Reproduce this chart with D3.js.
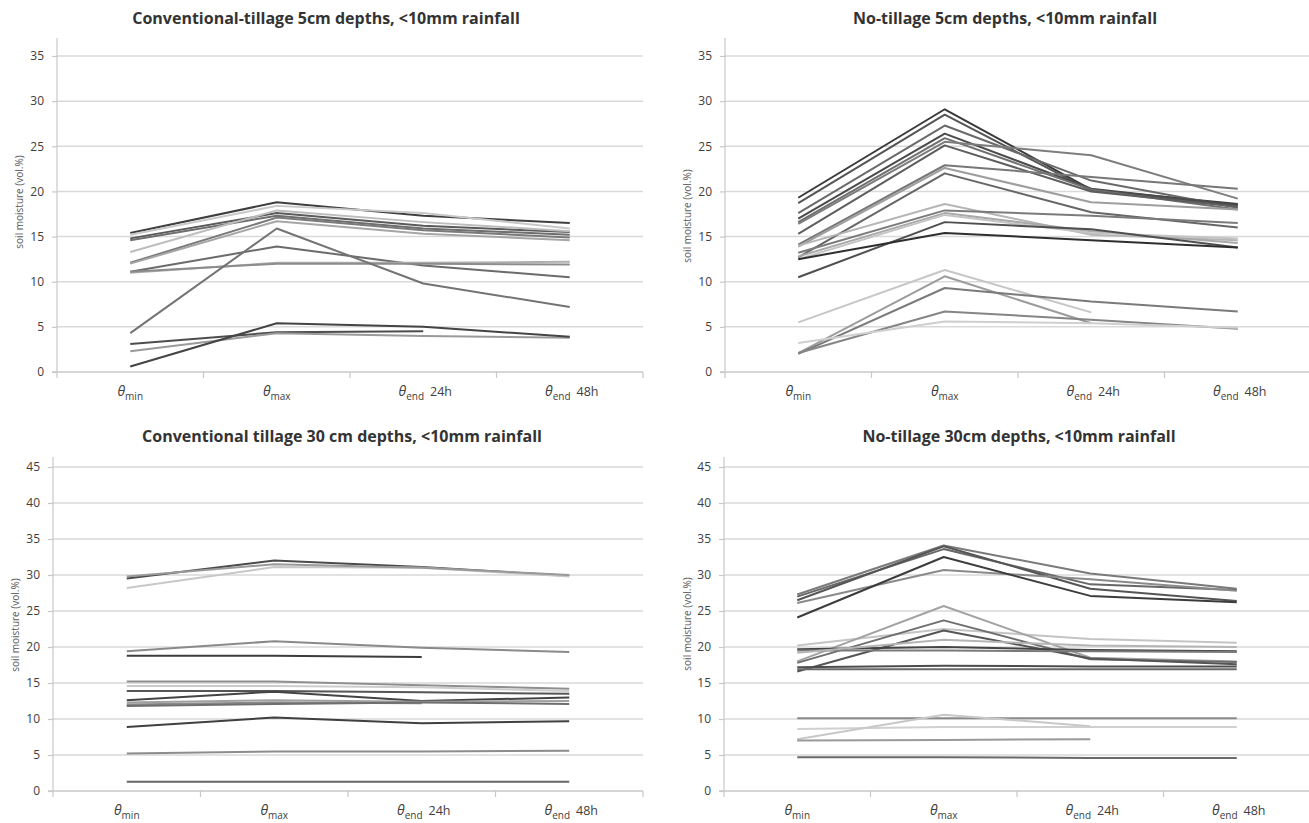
<!DOCTYPE html>
<html><head><meta charset="utf-8">
<script src="https://cdn.jsdelivr.net/npm/d3@7"></script>
<style>
html,body{margin:0;padding:0;background:#fff;}
svg{display:block;font-family:"Open Sans","Noto Sans",sans-serif;}
</style></head>
<body>
<svg id="c" width="1309" height="823"></svg>
<script>
// ---- data ----
const categories = ["min", "max", "end|24h", "end|48h"];
const ticksTop = [0, 5, 10, 15, 20, 25, 30, 35];
const ticksBottom = [0, 5, 10, 15, 20, 25, 30, 35, 40, 45];

const ct5Series = [
  [15.4, 18.8, 17.3, 16.5],
  [15.2, 18.4, 17.6, 15.9],
  [14.8, 17.6, 16.2, 15.5],
  [14.6, 17.3, 15.9, 15.2],
  [13.3, 17.9, 16.6, 15.6],
  [12.1, 17.1, 15.7, 14.9],
  [12.0, 16.7, 15.3, 14.6],
  [11.1, 13.9, 11.8, 10.5],
  [11.0, 12.1, 12.1, 12.2],
  [11.1, 12.0, 12.0, 11.9],
  [4.3, 15.9, 9.8, 7.2],
  [3.1, 4.4, 4.5, null],
  [2.3, 4.3, 4.0, 3.8],
  [0.6, 5.4, 5.0, 3.9]
];
const nt5Series = [
  [19.3, 29.1, 20.2, 18.6],
  [18.7, 28.5, 20.1, 18.4],
  [17.6, 27.3, 21.2, 18.2],
  [17.0, 26.4, 20.3, 18.5],
  [16.6, 25.9, 20.2, 18.0],
  [16.4, 25.5, 24.0, 19.2],
  [15.3, 25.1, 20.0, 18.3],
  [14.1, 22.9, 21.6, 20.3],
  [13.9, 22.6, 18.8, 18.0],
  [12.7, 22.0, 17.7, 16.0],
  [14.0, 18.6, 15.2, 14.6],
  [13.2, 17.9, 17.3, 16.5],
  [12.8, 17.6, 15.6, 14.3],
  [12.5, 17.4, 15.4, 14.8],
  [10.5, 16.6, 15.8, 13.8],
  [12.5, 15.4, 14.6, 13.8],
  [5.5, 11.3, 6.6, null],
  [2.1, 10.6, 5.4, null],
  [2.0, 9.3, 7.8, 6.7],
  [2.1, 6.7, 5.8, 4.8],
  [3.2, 5.6, 5.4, 4.9]
];
const ct30Series = [
  [29.5, 32.0, 31.1, 29.9],
  [28.2, 31.1, 31.0, 29.8],
  [29.8, 31.5, 31.0, 30.0],
  [19.4, 20.8, 19.9, 19.3],
  [18.8, 18.8, 18.6, null],
  [15.2, 15.2, 14.7, 14.2],
  [14.6, 14.6, 14.4, 13.9],
  [13.9, 13.9, 13.7, 13.5],
  [12.6, 13.8, 12.5, 13.0],
  [12.3, 12.6, 12.4, 12.5],
  [12.0, 12.3, 12.2, null],
  [11.8, 12.1, 12.3, 12.1],
  [8.9, 10.2, 9.4, 9.7],
  [5.2, 5.5, 5.5, 5.6],
  [1.3, 1.3, 1.3, 1.3]
];
const nt30Series = [
  [27.3, 34.1, 30.2, 28.1],
  [27.0, 33.6, 28.7, 27.9],
  [26.5, 34.0, 28.1, 26.4],
  [26.1, 30.7, 29.4, 27.8],
  [24.1, 32.5, 27.1, 26.2],
  [20.2, 22.5, 21.1, 20.6],
  [18.0, 25.7, 18.5, 18.0],
  [17.8, 23.7, 18.3, 17.9],
  [16.6, 22.3, 18.4, 17.6],
  [19.7, 20.0, 19.6, 19.4],
  [19.5, 19.5, 19.4, 19.3],
  [19.2, 21.0, 20.2, 20.0],
  [17.2, 17.4, 17.3, 17.3],
  [16.9, 16.9, 16.9, 16.9],
  [10.1, 10.1, 10.1, 10.1],
  [8.6, 8.9, 8.9, 8.9],
  [7.2, 10.6, 9.0, null],
  [7.0, 7.1, 7.2, null],
  [4.7, 4.7, 4.6, 4.6]
];

// ---- styles (line shades) ----
const ct5Colors = ["#3f3f3f","#c8c8c8","#5a5a5a","#6e6e6e","#bdbdbd","#7a7a7a","#a6a6a6","#6b6b6b","#b0b0b0","#8c8c8c","#737373","#4d4d4d","#9a9a9a","#444444"];
const nt5Colors = ["#3a3a3a","#555555","#6a6a6a","#4a4a4a","#707070","#7d7d7d","#5e5e5e","#777777","#9e9e9e","#666666","#b5b5b5","#7b7b7b","#a9a9a9","#c4c4c4","#4f4f4f","#2e2e2e","#c6c6c6","#9c9c9c","#7a7a7a","#858585","#cfcfcf"];
const ct30Colors = ["#4a4a4a","#c8c8c8","#999999","#8a8a8a","#3c3c3c","#8f8f8f","#cccccc","#555555","#444444","#a0a0a0","#8a8a8a","#6e6e6e","#404040","#8c8c8c","#666666"];
const nt30Colors = ["#7a7a7a","#666666","#555555","#8a8a8a","#3c3c3c","#c4c4c4","#a3a3a3","#6e6e6e","#555555","#444444","#7a7a7a","#b5b5b5","#4d4d4d","#6a6a6a","#8a8a8a","#d0d0d0","#c8c8c8","#999999","#6a6a6a"];

const panels = [
  {title:"Conventional-tillage 5cm depths, <10mm rainfall", series:ct5Series, colors:ct5Colors, ticks:ticksTop,
   x0:57, x1:643, yBase:372, yMaxVal:35, yMaxPx:56, axisTop:38, titleX:326, titleY:24, labX:19, labY:202, xLabY:396},
  {title:"No-tillage 5cm depths, <10mm rainfall", series:nt5Series, colors:nt5Colors, ticks:ticksTop,
   x0:725, x1:1311, yBase:372, yMaxVal:35, yMaxPx:56, axisTop:38, titleX:1005, titleY:24, labX:687, labY:216, xLabY:396},
  {title:"Conventional tillage 30 cm depths, <10mm rainfall", series:ct30Series, colors:ct30Colors, ticks:ticksBottom,
   x0:53, x1:643, yBase:791, yMaxVal:45, yMaxPx:467, axisTop:457, titleX:342, titleY:442, labX:15, labY:625, xLabY:815},
  {title:"No-tillage 30cm depths, <10mm rainfall", series:nt30Series, colors:nt30Colors, ticks:ticksBottom,
   x0:724, x1:1310, yBase:791, yMaxVal:45, yMaxPx:467, axisTop:457, titleX:1019, titleY:442, labX:687, labY:624, xLabY:815}
];

const svg = d3.select("#c");

panels.forEach(p => {
  const g = svg.append("g");
  const x = d3.scaleBand().domain(categories).range([p.x0, p.x1]).padding(0);
  const y = d3.scaleLinear().domain([0, p.yMaxVal]).range([p.yBase, p.yMaxPx]);

  // gridlines
  g.append("g").selectAll("line").data(p.ticks.filter(t => t > 0)).join("line")
    .attr("x1", p.x0).attr("x2", p.x1)
    .attr("y1", d => y(d)).attr("y2", d => y(d))
    .attr("stroke", "#d9d9d9").attr("stroke-width", 1.5);

  // y axis
  const ya = g.append("g").attr("transform", `translate(${p.x0},0)`)
    .call(d3.axisLeft(y).tickValues(p.ticks).tickSize(5).tickPadding(8).tickFormat(d3.format("d")));
  ya.select(".domain").remove();
  ya.selectAll(".tick line").attr("stroke", "#c8c8c8").attr("stroke-width", 1.2);
  ya.selectAll(".tick text").attr("fill", "#404040").attr("font-size", 12)
    .attr("font-family", "'Open Sans',sans-serif");
  g.append("line").attr("x1", p.x0).attr("x2", p.x0).attr("y1", p.axisTop).attr("y2", p.yBase)
    .attr("stroke", "#c8c8c8").attr("stroke-width", 1.2);

  // x axis
  g.append("line").attr("x1", p.x0 - 5).attr("x2", p.x1).attr("y1", p.yBase).attr("y2", p.yBase)
    .attr("stroke", "#c8c8c8").attr("stroke-width", 1.5);
  const bounds = categories.map(c => x(c)).concat([p.x1]);
  g.append("g").selectAll("line").data(bounds).join("line")
    .attr("x1", d => d).attr("x2", d => d).attr("y1", p.yBase).attr("y2", p.yBase + 6)
    .attr("stroke", "#c8c8c8").attr("stroke-width", 1.2);

  const bw = x.bandwidth();
  categories.forEach(c => {
    const parts = c.split("|");
    const t = g.append("text").attr("x", x(c) + bw / 2 + (parts[1] ? 2 : 0)).attr("y", p.xLabY)
      .attr("text-anchor", "middle").attr("fill", "#404040").attr("font-size", 12.5)
      .attr("font-family", "'Open Sans',sans-serif");
    t.append("tspan").attr("font-style", "italic").attr("font-size", 14).text("θ");
    t.append("tspan").attr("font-size", 10).attr("dy", 4).text(parts[0]);
    if (parts[1]) t.append("tspan").attr("dy", -4).attr("dx", 6).text(parts[1]);
  });

  // lines
  const line = d3.line()
    .defined(d => d != null)
    .x((d, i) => x(categories[i]) + bw / 2)
    .y(d => y(d));
  g.append("g").selectAll("path").data(p.series).join("path")
    .attr("d", d => line(d))
    .attr("fill", "none")
    .attr("stroke", (d, i) => p.colors[i])
    .attr("stroke-width", 2)
    .attr("stroke-linejoin", "round");

  // title
  g.append("text").attr("x", p.titleX).attr("y", p.titleY).attr("text-anchor", "middle")
    .attr("font-weight", "bold").attr("font-size", 16).attr("fill", "#333333")
    .attr("font-family", "'Open Sans',sans-serif")
    .text(p.title);

  // y label
  g.append("text").attr("transform", `translate(${p.labX},${p.labY}) rotate(-90)`)
    .attr("text-anchor", "middle").attr("dy", "0.35em")
    .attr("font-size", 10).attr("fill", "#595959")
    .attr("font-family", "'Open Sans',sans-serif")
    .text("soil moisture (vol.%)");
});
</script>
</body></html>
